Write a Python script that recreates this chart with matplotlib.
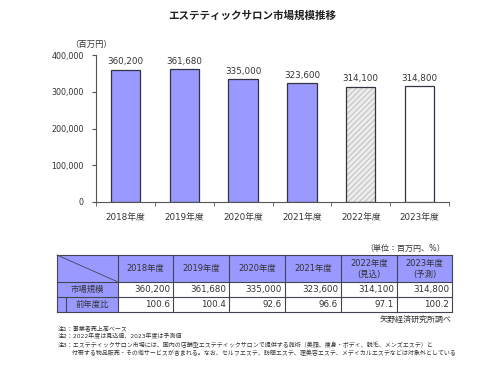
import matplotlib
matplotlib.use('Agg')
import matplotlib.pyplot as plt
from matplotlib.patches import Rectangle

plt.rcParams['font.family'] = ['DejaVu Sans', 'Noto Sans CJK JP']
plt.rcParams['hatch.linewidth'] = 0.6

# data
years = ['2018年度', '2019年度', '2020年度', '2021年度', '2022年度', '2023年度']
table_years = ['2018年度', '2019年度', '2020年度', '2021年度', '2022年度\n(見込)', '2023年度\n(予測)']
market = [360200, 361680, 335000, 323600, 314100, 314800]
yoy = [100.6, 100.4, 92.6, 96.6, 97.1, 100.2]
notes = [
    '注1：事業者売上高ベース',
    '注2：2022年度は見込値、2023年度は予測値',
    '注3：エステティックサロン市場には、国内の店舗型エステティックサロンで提供する施術（美顔、痩身・ボディ、脱毛、メンズエステ）と',
    '　　 付帯する物品販売・その他サービスが含まれる。なお、セルフエステ、訪問エステ、理美容エステ、メディカルエステなどは対象外としている',
]

PURPLE = '#9999ff'
EDGE = '#333344'

W, H = 500, 375
fig = plt.figure(figsize=(5, 3.75), dpi=100)

fig.text(252 / W, 1 - 16 / H, 'エステティックサロン市場規模推移', ha='center', va='center',
         fontsize=7.6, fontweight='bold', color='#222222')

ax = fig.add_axes([96 / W, 1 - 202 / H, (449 - 96) / W, (202 - 55) / H])
x = list(range(len(years)))
for i, v in enumerate(market):
    if i < 4:
        ax.bar(i, v, width=0.5, color=PURPLE, edgecolor=EDGE, linewidth=0.9, zorder=2)
    elif i == 4:
        ax.bar(i, v, width=0.5, color='#ececec', edgecolor='#b8b8b8', hatch='//////', linewidth=0, zorder=2)
        ax.bar(i, v, width=0.5, color='none', edgecolor=EDGE, linewidth=0.9, zorder=3)
    else:
        ax.bar(i, v, width=0.5, color='white', edgecolor=EDGE, linewidth=0.9, zorder=2)
    ax.text(i, v + 9000, f'{v:,}', ha='center', va='bottom', fontsize=6.3, color='#333333')

ax.set_xlim(-0.5, len(years) - 0.5)
ax.set_ylim(0, 400000)
ax.set_yticks([0, 100000, 200000, 300000, 400000])
ax.set_yticklabels([f'{t:,}' for t in [0, 100000, 200000, 300000, 400000]])
ax.set_xticks(x)
ax.set_xticklabels(years)
ax.set_xticks([i - 0.5 for i in range(len(years) + 1)], minor=True)
ax.tick_params(axis='x', which='major', length=0, pad=8, labelsize=6.3, colors='#333333')
ax.tick_params(axis='x', which='minor', length=3, direction='out', color='#555555')
ax.tick_params(axis='y', length=3, labelsize=5.8, pad=6, colors='#555555', labelcolor='#333333')
for s in ['top', 'right']:
    ax.spines[s].set_visible(False)
for s in ['left', 'bottom']:
    ax.spines[s].set_color('#555555')
    ax.spines[s].set_linewidth(0.8)
fig.text(91 / W, 1 - 44 / H, '（百万円）', ha='center', va='center', fontsize=6, color='#333333')

# table in pixel coordinates
tb = fig.add_axes([0, 0, 1, 1])
tb.set_xlim(0, W)
tb.set_ylim(H, 0)
tb.axis('off')

col_x = [57, 118, 173, 229, 285, 341, 397, 452]
row_y = [255, 282, 297, 312]
lc = '#444455'

# header
tb.add_patch(Rectangle((col_x[0], row_y[0]), col_x[-1] - col_x[0], row_y[1] - row_y[0],
                       facecolor=PURPLE, edgecolor='none'))
# first column
tb.add_patch(Rectangle((col_x[0], row_y[1]), col_x[1] - col_x[0], row_y[3] - row_y[1],
                       facecolor=PURPLE, edgecolor='none'))
# grid lines
for cx in col_x:
    tb.plot([cx, cx], [row_y[0], row_y[3]], color=lc, lw=0.8)
for ry in row_y:
    tb.plot([col_x[0], col_x[-1]], [ry, ry], color=lc, lw=0.8)
tb.plot([66, 66], [row_y[2], row_y[3]], color=lc, lw=0.8)
tb.plot([col_x[0], col_x[1]], [row_y[0], row_y[1]], color=lc, lw=0.6)

for j, lab in enumerate(table_years):
    cx = (col_x[j + 1] + col_x[j + 2]) / 2
    tb.text(cx, (row_y[0] + row_y[1]) / 2, lab, ha='center', va='center', fontsize=6,
            color='#333333', linespacing=1.3)
    tb.text(col_x[j + 2] - 3, (row_y[1] + row_y[2]) / 2, f'{market[j]:,}', ha='right', va='center',
            fontsize=6.3, color='#333333')
    tb.text(col_x[j + 2] - 3, (row_y[2] + row_y[3]) / 2, f'{yoy[j]:.1f}', ha='right', va='center',
            fontsize=6.3, color='#333333')
tb.text((col_x[0] + col_x[1]) / 2, (row_y[1] + row_y[2]) / 2, '市場規模', ha='center', va='center',
        fontsize=6, color='#333333')
tb.text((66 + col_x[1]) / 2, (row_y[2] + row_y[3]) / 2, '前年度比', ha='center', va='center',
        fontsize=6, color='#333333')

tb.text(445, 248, '（単位：百万円、%）', ha='right', va='center', fontsize=5.8, color='#333333')
tb.text(452, 319, '矢野経済研究所調べ', ha='right', va='center', fontsize=5.8, color='#333333')
for k, n in enumerate(notes):
    tb.text(58, 328 + k * 8.3, n, ha='left', va='center', fontsize=4.3, color='#333333')

fig.savefig('out.png', dpi=100)
